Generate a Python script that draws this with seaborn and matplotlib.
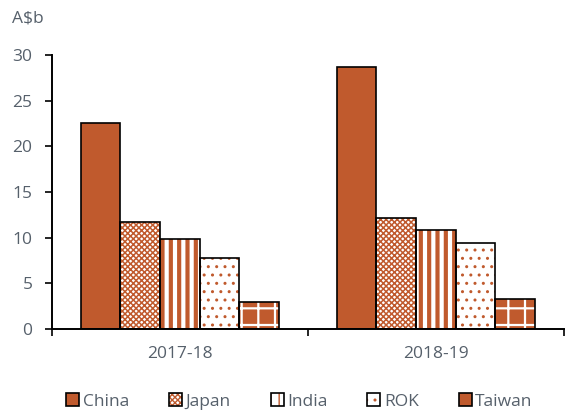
import matplotlib
matplotlib.use("Agg")
import matplotlib.pyplot as plt
import seaborn as sns
import pandas as pd
from matplotlib.patches import Patch, Rectangle
from matplotlib.legend_handler import HandlerTuple

years = ["2017-18", "2018-19"]
countries = ["China", "Japan", "India", "ROK", "Taiwan"]
china = [22.6, 28.7]
japan = [11.7, 12.2]
india = [9.8, 10.8]
rok = [7.8, 9.4]
taiwan = [3.0, 3.3]

ORANGE = "#C05A2D"
TEXT = "#56606B"

# (face, hatch colour, hatch, hatch linewidth)
styles = {
    "China": (ORANGE, ORANGE, None, 1.0),
    "Japan": ("white", ORANGE, "xxxxxx", 1.1),
    "India": ("white", ORANGE, "||", 3.0),
    "ROK": ("white", ORANGE, "..", 1.0),
    "Taiwan": (ORANGE, "white", "+", 1.6),
}

rows = []
for c, vals in zip(countries, [china, japan, india, rok, taiwan]):
    for y, v in zip(years, vals):
        rows.append({"Year": y, "Country": c, "Value": v})
df = pd.DataFrame(rows)

sns.set_style("white")
plt.rcParams["font.family"] = ["Open Sans", "DejaVu Sans"]

fig = plt.figure(figsize=(5.65, 4.12), dpi=100)
ax = fig.add_axes([0.092, 0.2015, 0.906, 0.665])

sns.barplot(data=df, x="Year", y="Value", hue="Country", hue_order=countries,
            order=years, palette=[ORANGE] * 5, width=0.775, ax=ax, legend=False)

for cont, c in zip(ax.containers, countries):
    face, hcol, hatch, hlw = styles[c]
    for p in cont:
        p.set_facecolor(face)
        p.set_edgecolor(hcol)
        p.set_linewidth(0)
        if hatch:
            p.set_hatch(hatch)
            if hasattr(p, "set_hatch_linewidth"):
                p.set_hatch_linewidth(hlw)
        ax.add_patch(Rectangle(p.get_xy(), p.get_width(), p.get_height(),
                               fill=False, edgecolor="black", linewidth=1.2, zorder=3))

ax.set_ylim(0, 30)
ax.set_xlim(-0.5, 1.5)
ax.set_yticks(range(0, 31, 5))
ax.set_xticks([0, 1])
ax.set_xticks([-0.5, 0.5, 1.5], minor=True)
ax.tick_params(axis="x", which="major", length=0, pad=12, labelsize=12.5, labelcolor=TEXT)
ax.tick_params(axis="x", which="minor", length=5, width=1.2, color="black", direction="out", bottom=True)
ax.tick_params(axis="y", length=5, width=1.2, color="black", direction="out", left=True,
               labelsize=12.5, labelcolor=TEXT, pad=9)
ax.set_xlabel("")
ax.set_ylabel("")
for s in ["top", "right"]:
    ax.spines[s].set_visible(False)
for s in ["left", "bottom"]:
    ax.spines[s].set_color("black")
    ax.spines[s].set_linewidth(1.4)

fig.text(0.021, 0.956, "A$b", fontsize=12.5, color=TEXT, va="center", ha="left")

handles = []
for c in countries:
    face, hcol, hatch, hlw = styles[c]
    h1 = Patch(facecolor=face, edgecolor=hcol, hatch=hatch, linewidth=0)
    h2 = Patch(fill=False, edgecolor="black", linewidth=1.2)
    handles.append((h1, h2))
fig.legend(handles, countries, handler_map={tuple: HandlerTuple(ndivide=1, pad=0)},
           loc="center", bbox_to_anchor=(0.53, 0.025), ncol=5, frameon=False,
           fontsize=12.5, labelcolor=TEXT, handlelength=0.75, handleheight=0.75,
           handletextpad=0.2, columnspacing=2.3)

fig.savefig("out.png", dpi=100)
